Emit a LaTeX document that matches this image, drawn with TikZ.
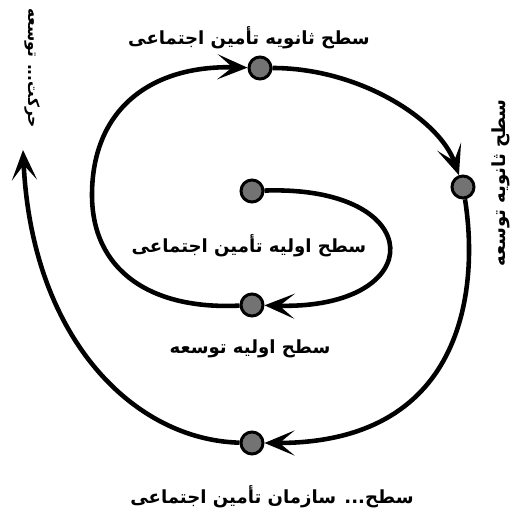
\documentclass[tikz,border=0pt]{standalone}
\usepackage{fontspec}
\newfontfamily\farsi[Script=Arabic]{DejaVu Sans}
\TeXXeTstate=1
\usetikzlibrary{arrows.meta}

\begin{document}
\begin{tikzpicture}[x=0.02cm,y=-0.02cm,
    lvl/.style={circle,draw,line width=1.7pt,fill=black!55,inner sep=0pt,minimum size=4.4mm},
    flow/.style={line width=2.6pt,-{Stealth[length=6mm,width=5mm,inset=3mm]}},
    lbl/.style={font=\farsi\bfseries\fontsize{10.3}{12}\selectfont,inner sep=0pt}]
  \useasboundingbox (0,0) rectangle (517,516);
  % levels on the spiral
  \node[lvl] (start) at (252,191) {};
  \node[lvl] (pdev) at (252,305) {};
  \node[lvl] (ssoc) at (260,68) {};
  \node[lvl] (sdev) at (463,187) {};
  \node[lvl] (org) at (252,443) {};
  \coordinate (west) at (92,195);
  \coordinate (move) at (23,150);
  % spiral
  \draw[flow] (start) .. controls (430,185) and (430,310) .. (pdev);
  \draw[flow] (pdev) .. controls (150,310) and (92,270) .. (west)
    .. controls (92,110) and (150,65) .. (ssoc);
  \draw[flow] (ssoc) .. controls (360,68) and (440,120) .. (sdev);
  \draw[flow] (sdev) .. controls (478,280) and (470,443) .. (org);
  \draw[flow] (org) .. controls (135,440) and (32,340) .. (move);
  % labels
  \node[lbl] (lssoc) at (249,38) {\beginR سطح ثانویه تأمین اجتماعی\endR};
  \node[lbl,rotate=90] (lsdev) at (501,183) {\beginR سطح ثانویه توسعه\endR};
  \node[lbl,rotate=-90,font=\farsi\bfseries\fontsize{8.8}{10}\selectfont] (lmove) at (32,68) {\beginR حرکت... توسعه\endR};
  \node[lbl] (lpsoc) at (249,246) {\beginR سطح اولیه تأمین اجتماعی\endR};
  \node[lbl] (lpdev) at (250,349) {\beginR سطح اولیه توسعه\endR};
  \node[lbl] (lorg) at (272,497) {\beginR سطح... سازمان تأمین اجتماعی\endR};
\end{tikzpicture}
\end{document}
